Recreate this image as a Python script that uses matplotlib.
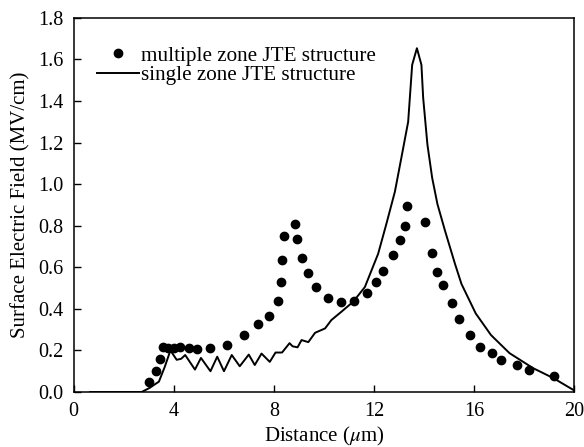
#!/usr/bin/env python3
# Surface electric field along the device for two JTE structures.

import matplotlib
matplotlib.use('Agg')
import matplotlib.pyplot as plt

# Multiple zone JTE structure (dots).
multi_x = [3.0, 3.28, 3.44, 3.57, 3.77, 4.03, 4.26, 4.63, 4.94, 5.47, 6.14,
           6.80, 7.37, 7.80, 8.17, 8.29, 8.33, 8.41, 8.86, 8.94, 9.11, 9.36,
           9.70, 10.18, 10.70, 11.21, 11.74, 12.08, 12.38, 12.78, 13.06,
           13.24, 13.34, 14.06, 14.33, 14.52, 14.75, 15.13, 15.39, 15.84,
           16.26, 16.72, 17.08, 17.73, 18.19, 19.21]
multi_y = [0.048, 0.102, 0.158, 0.218, 0.213, 0.213, 0.216, 0.211, 0.205,
           0.211, 0.228, 0.276, 0.328, 0.365, 0.440, 0.528, 0.637, 0.749,
           0.806, 0.738, 0.647, 0.573, 0.503, 0.451, 0.433, 0.438, 0.477,
           0.531, 0.582, 0.658, 0.733, 0.797, 0.893, 0.819, 0.671, 0.579,
           0.514, 0.426, 0.350, 0.272, 0.217, 0.187, 0.155, 0.128, 0.107,
           0.077]

# Single zone JTE structure (solid line).
single_x = [0.66, 2.72, 3.04, 3.41, 3.64, 3.87, 4.12, 4.30, 4.46, 4.85, 5.09,
            5.47, 5.74, 6.01, 6.32, 6.64, 7.0, 7.24, 7.51, 7.84, 8.07, 8.33,
            8.63, 8.75, 8.95, 9.11, 9.38, 9.65, 10.05, 10.30, 10.70, 11.17,
            11.64, 12.17, 12.50, 12.84, 13.10, 13.37, 13.53, 13.72, 13.90,
            13.97, 14.14, 14.33, 14.54, 14.84, 15.24, 15.50, 16.07, 16.68,
            17.42, 18.36, 19.17, 20.0]
single_y = [0.0, 0.0, 0.02, 0.05, 0.12, 0.20, 0.155, 0.16, 0.178, 0.108,
            0.164, 0.10, 0.17, 0.10, 0.178, 0.124, 0.18, 0.13, 0.185, 0.145,
            0.19, 0.19, 0.235, 0.22, 0.215, 0.25, 0.24, 0.285, 0.306, 0.346,
            0.386, 0.434, 0.505, 0.665, 0.809, 0.964, 1.128, 1.30, 1.574,
            1.654, 1.574, 1.415, 1.19, 1.03, 0.904, 0.777, 0.617, 0.52, 0.378,
            0.274, 0.187, 0.115, 0.067, 0.008]

x_ticks = [0, 4, 8, 12, 16, 20]
y_ticks = [0.0, 0.2, 0.4, 0.6, 0.8, 1.0, 1.2, 1.4, 1.6, 1.8]

plt.rcParams['font.family'] = ['Liberation Serif', 'DejaVu Serif']
plt.rcParams['mathtext.fontset'] = 'stix'
plt.rcParams['font.size'] = 14.5

fig = plt.figure(figsize=(5.84, 4.47), dpi=100)
ax = fig.add_axes([0.126, 0.123, 0.857, 0.837])

ax.plot(multi_x, multi_y, linestyle='None', marker='o', markersize=6,
        color='black', label='multiple zone JTE structure')
ax.plot(single_x, single_y, linestyle='-', linewidth=1.4, color='black',
        label='single zone JTE structure')

ax.set_xlim(0, 20)
ax.set_ylim(0, 1.8)
ax.set_xticks(x_ticks)
ax.set_xticklabels(['%d' % t for t in x_ticks])
ax.set_yticks(y_ticks)
ax.set_yticklabels(['%.1f' % t for t in y_ticks])
ax.tick_params(direction='in', length=5, width=1, top=False, right=False)
ax.tick_params(axis='x', pad=7)
ax.tick_params(axis='y', pad=7.5)
for sp in ax.spines.values():
    sp.set_linewidth(1.1)

ax.set_xlabel('Distance ($\\mu$m)', labelpad=3, fontsize=15)
ax.set_ylabel('Surface Electric Field (MV/cm)', labelpad=5, fontsize=15)

ax.legend(loc='upper left', bbox_to_anchor=(0.046, 0.925), frameon=False,
          borderaxespad=0, borderpad=0, handlelength=2.0, handletextpad=0.1,
          labelspacing=0.0, fontsize=15.2)

fig.savefig('out.png', dpi=100)
